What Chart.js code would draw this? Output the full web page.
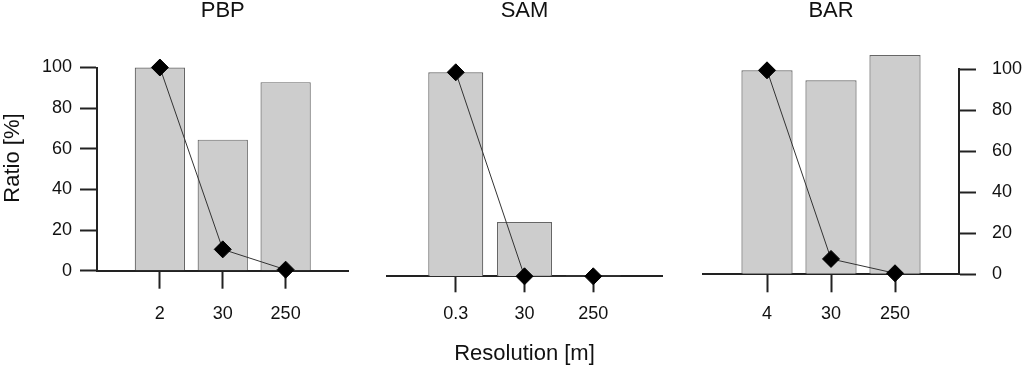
<!DOCTYPE html>
<html lang="en">
<head>
    <meta charset="UTF-8">
    <title>Ratio by resolution</title>
    <style>
        body {
            margin: 0;
            width: 1024px;
            height: 368px;
            background: #fff;
            position: relative;
            overflow: hidden;
        }

        canvas {
            position: absolute;
            top: 0;
        }
    </style>
</head>
<body>
    <canvas id="pbp" width="358" height="368" style="left:0px"></canvas>
    <canvas id="sam" width="324" height="368" style="left:358px"></canvas>
    <canvas id="bar" width="342" height="368" style="left:682px"></canvas>

    <script src="https://cdn.jsdelivr.net/npm/chart.js"></script>
    <script>
        // resolutions (x labels) per site
        const pbpRes = ['2', '30', '250'];
        const samRes = ['0.3', '30', '250'];
        const barRes = ['4', '30', '250'];

        // bar heights [%]
        const pbpBars = [100, 64.5, 92.8];
        const samBars = [100, 26.6, 0.4];
        const barBars = [99.5, 94.6, 107];

        // diamond line values [%]
        const pbpPoints = [100, 10.5, 0.5];
        const samPoints = [100, 0, 0];
        const barPoints = [99.5, 7.5, 0.5];

        Chart.defaults.font.family = '"Liberation Sans", Arial, sans-serif';
        Chart.defaults.color = '#111';

        function toXY(vals) {
            return vals.map((v, i) => ({ x: i + 1, y: v }));
        }

        // y axis label drawn a bit above the axis middle, like the original
        const ratioLabel = {
            id: 'ratioLabel',
            afterDraw(chart) {
                const ctx = chart.ctx;
                const area = chart.chartArea;
                ctx.save();
                ctx.translate(chart.scales.y.left + 13, area.top + 90.5);
                ctx.rotate(-Math.PI / 2);
                ctx.font = '22px "Liberation Sans", Arial, sans-serif';
                ctx.fillStyle = '#111';
                ctx.textAlign = 'center';
                ctx.textBaseline = 'middle';
                ctx.fillText('Ratio [%]', 0, 0);
                ctx.restore();
            }
        };

        function makePanel(id, c) {
            return new Chart(document.getElementById(id), {
                type: 'bar',
                data: {
                    datasets: [
                        {
                            type: 'line',
                            data: toXY(c.points),
                            borderColor: '#333',
                            borderWidth: 1,
                            pointStyle: 'rectRot',
                            pointRadius: 8.5,
                            pointBackgroundColor: '#000',
                            pointBorderColor: '#000',
                            pointBorderWidth: 1,
                            clip: false,
                            order: 0
                        },
                        {
                            type: 'bar',
                            data: toXY(c.bars),
                            backgroundColor: '#cdcdcd',
                            borderColor: '#666',
                            borderWidth: 1.2,
                            categoryPercentage: 1,
                            barPercentage: 0.8,
                            clip: false,
                            order: 1
                        }
                    ]
                },
                options: {
                    responsive: false,
                    animation: false,
                    layout: { padding: c.padding },
                    plugins: {
                        legend: { display: false },
                        tooltip: { enabled: false },
                        title: {
                            display: true,
                            text: c.title,
                            fullSize: false,
                            color: '#111',
                            font: { size: 22, weight: 'normal', lineHeight: 1 },
                            padding: { top: 0, bottom: c.titleGap }
                        }
                    },
                    scales: {
                        x: {
                            type: 'linear',
                            min: 0,
                            max: 4,
                            offset: false,
                            afterBuildTicks: s => { s.ticks = c.labels.map((l, i) => ({ value: i + 1 })); },
                            afterFit: s => { s.height = c.xHeight; },
                            ticks: {
                                autoSkip: false,
                                maxRotation: 0,
                                padding: c.xPad,
                                font: { size: 18 },
                                callback: v => c.labels[v - 1]
                            },
                            grid: {
                                offset: false,
                                drawOnChartArea: false,
                                tickLength: c.xTick,
                                tickColor: '#222',
                                tickWidth: 2
                            },
                            border: { color: '#222', width: 2 },
                            title: {
                                display: !!c.xTitle,
                                text: c.xTitle || '',
                                color: '#111',
                                font: { size: 22, lineHeight: 1.2 },
                                padding: { top: 0, bottom: 1 }
                            }
                        },
                        y: {
                            display: c.yShow,
                            position: c.yPos,
                            min: 0,
                            max: 100,
                            afterFit: s => { s.width = c.yWidth; },
                            ticks: { stepSize: 20, padding: c.yPad, font: { size: 18 } },
                            grid: {
                                drawOnChartArea: false,
                                tickLength: 17,
                                tickColor: '#222',
                                tickWidth: 2
                            },
                            border: { color: '#222', width: 2 }
                        }
                    }
                },
                plugins: c.extra || []
            });
        }

        makePanel('pbp', {
            title: 'PBP', labels: pbpRes, bars: pbpBars, points: pbpPoints,
            padding: { left: 0, right: 6, top: 0, bottom: 0 },
            titleGap: 45.5, xHeight: 97.3, xTick: 18, xPad: 14.5,
            yShow: true, yPos: 'left', yWidth: 97, yPad: 8,
            extra: [ratioLabel]
        });

        makePanel('sam', {
            title: 'SAM', labels: samRes, bars: samBars, points: samPoints,
            padding: { left: 29, right: 20, top: 0, bottom: 0 },
            titleGap: 50.3, xHeight: 91.7, xTick: 16, xPad: 11,
            xTitle: 'Resolution [m]',
            yShow: false, yPos: 'left', yWidth: 0, yPad: 8
        });

        makePanel('bar', {
            title: 'BAR', labels: barRes, bars: barBars, points: barPoints,
            padding: { left: 21, right: 0, top: 0, bottom: 0 },
            titleGap: 47.3, xHeight: 93.7, xTick: 18, xPad: 11,
            yShow: true, yPos: 'right', yWidth: 65, yPad: 16
        });
    </script>
</body>
</html>
